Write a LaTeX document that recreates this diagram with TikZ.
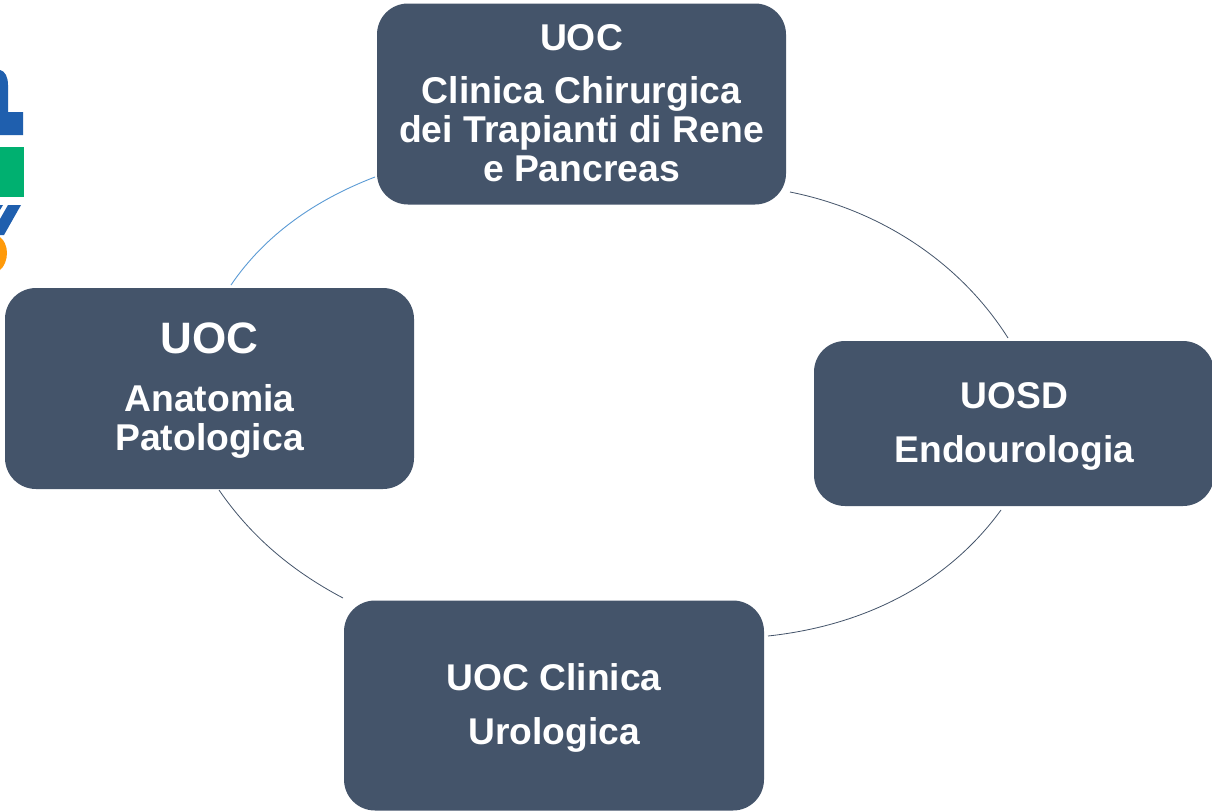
\documentclass[tikz,border=0pt]{standalone}
\usepackage{fontspec}
\setmainfont{Liberation Sans}
\definecolor{boxc}{HTML}{44546A}
\definecolor{arcblue}{HTML}{5B9BD5}
\definecolor{logoblue}{HTML}{1F5FAE}
\definecolor{logogreen}{HTML}{00B070}
\definecolor{logoorange}{HTML}{FF9A0A}
\tikzset{unit/.style={fill=boxc,rounded corners=31pt},
lab/.style={text=white,align=center,font=\bfseries\fontsize{37.3}{39}\selectfont},
labwide/.style={text=white,align=center,font=\bfseries\fontsize{37.2}{54}\selectfont},
labbig/.style={text=white,align=center,font=\bfseries\fontsize{44}{44}\selectfont},
arcb/.style={draw=boxc,line width=0.8pt},arcl/.style={draw=arcblue,line width=0.9pt}}
\begin{document}
\begin{tikzpicture}[x=1pt,y=1pt]
\useasboundingbox (0,0) rectangle (1212,-811);
\fill[fill=white] (0,0) rectangle (1212,-811);
% logo fragments
\fill[fill=logoblue] (0,-70) .. controls (5,-71) and (8,-77) .. (8,-85) -- (8,-112) -- (23,-112) -- (23,-135) -- (0,-135) -- cycle;
\fill[fill=logogreen] (0,-147) -- (24,-147) -- (24,-197) -- (0,-197) -- cycle;
\fill[fill=logoblue] (8,-205) -- (21,-205) -- (4,-235) -- (0,-235) -- (0,-219) -- cycle;
\fill[fill=logoblue] (0,-205) -- (3,-205) -- (0,-210) -- cycle;
\fill[fill=logoorange] (0,-237) .. controls (4,-240) and (7,-246) .. (7,-253) .. controls (7,-260) and (4,-267) .. (0,-270) -- cycle;
% boxes
\node[unit,minimum width=409pt,minimum height=201pt] (a) at (581.5,-104) {};
\node[unit,minimum width=409pt,minimum height=201pt] (b) at (209.5,-388.5) {};
\node[unit,minimum width=400pt,minimum height=165pt] (c) at (1014,-423.5) {};
\node[unit,minimum width=420pt,minimum height=210pt] (d) at (554,-705.5) {};
% labels
\node[lab] (a1) at (581.5,-37.5) {UOC};
\node[lab] (a2) at (581.5,-129) {Clinica Chirurgica\\dei Trapianti di Rene\\e Pancreas};
\node[labbig] (b1) at (209.5,-338) {UOC};
\node[lab] (b2) at (209.5,-421) {Anatomia\\Patologica};
\node[labwide] (c1) at (1014.5,-426) {UOSD\\Endourologia};
\node[labwide] (d1) at (554,-708) {UOC Clinica\\Urologica};
% connector ends
\coordinate (ae) at (790,-192);
\coordinate (ce) at (1008,-338);
\coordinate (cs) at (1001,-510);
\coordinate (de) at (768,-636);
\coordinate (dw) at (343,-598);
\coordinate (bs) at (219,-490);
\coordinate (bn) at (231,-285);
\coordinate (aw) at (375,-177);
\draw[arcb] (ae) .. controls (880,-210) and (960,-262) .. (ce);
\draw[arcb] (cs) .. controls (950,-580) and (870,-625) .. (de);
\draw[arcb] (dw) .. controls (290,-570) and (250,-535) .. (bs);
\draw[arcl] (bn) .. controls (265,-235) and (315,-200) .. (aw);
\end{tikzpicture}
\end{document}
